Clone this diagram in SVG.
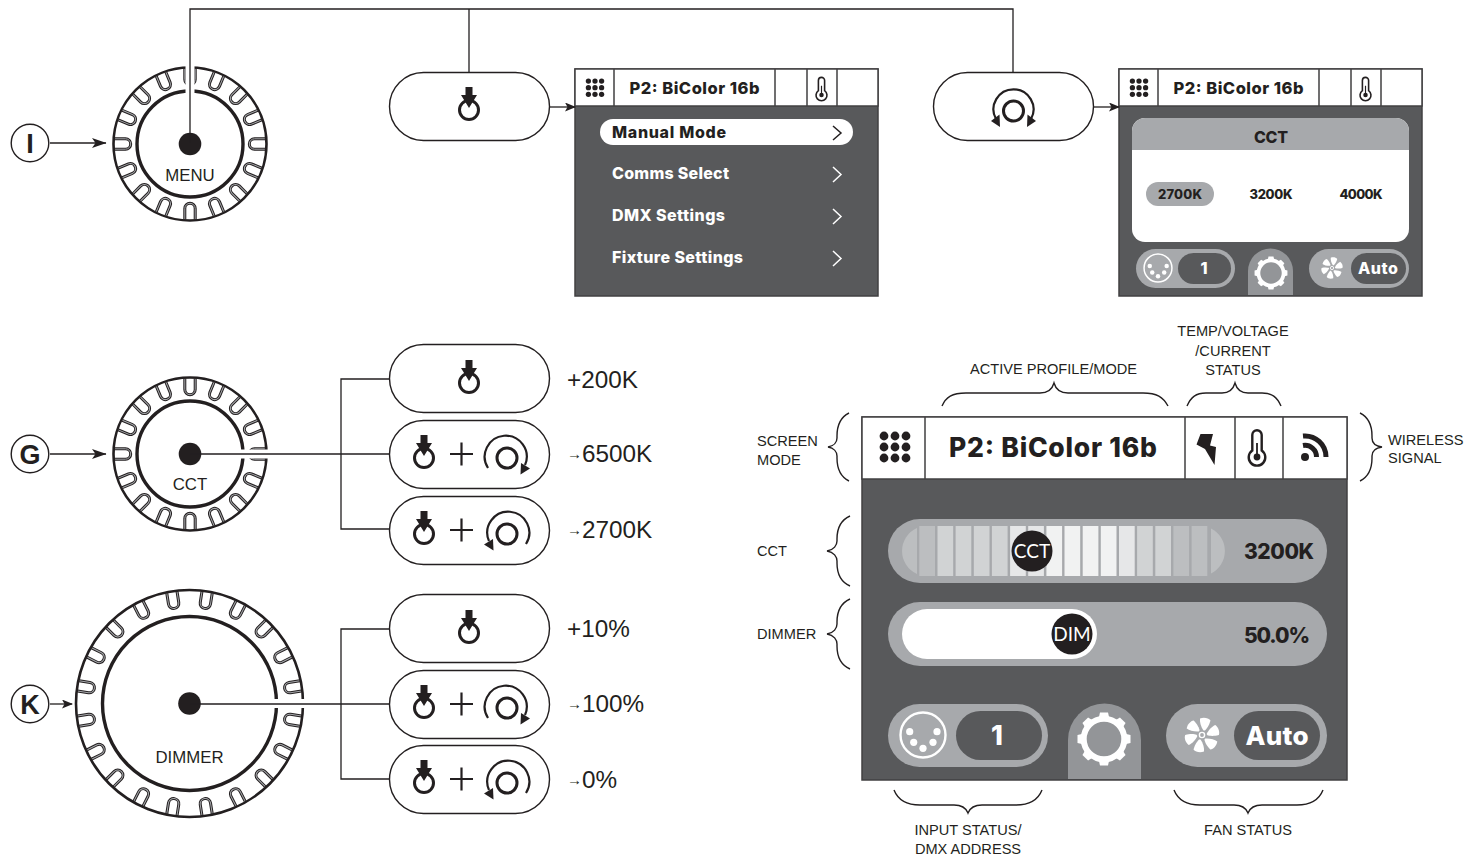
<svg xmlns="http://www.w3.org/2000/svg" width="1480" height="856" viewBox="0 0 1480 856">
<style>
.ln{fill:none;stroke:#231f20;stroke-width:1.3}
.pill{fill:#fff;stroke:#231f20;stroke-width:1.4}
.lab{font-family:"Liberation Sans",Arial,sans-serif;fill:#231f20;font-size:14.6px}
.knob{font-family:"Liberation Sans",Arial,sans-serif;fill:#231f20;font-size:16.8px;text-anchor:middle}
.val{font-family:"Liberation Sans",Arial,sans-serif;fill:#231f20;font-size:24.3px}
.badge{font-family:"Liberation Sans",Arial,sans-serif;fill:#231f20;font-size:27px;font-weight:700;text-anchor:middle}
.ui{font-family:Inter,"Open Sans",sans-serif;font-weight:800;fill:#231f20}
.w{fill:#fff}
.m{text-anchor:middle}
.br{fill:none;stroke:#231f20;stroke-width:1.4}
.hd{fill:#fff;stroke:#414042;stroke-width:1.5}
.dv{stroke:#414042;stroke-width:1.5}
.chev{fill:none;stroke:#fff;stroke-width:1.5}
.thin{font-family:Lato,sans-serif;font-size:19px;fill:#fff;text-anchor:middle}
</style>
<defs>
<marker id="ah" markerUnits="userSpaceOnUse" markerWidth="15" markerHeight="10" refX="14" refY="5" orient="auto"><path d="M0 0L14.500 5L0 10L3.500 5Z" fill="#231f20"/></marker>
<marker id="as" markerUnits="userSpaceOnUse" markerWidth="11" markerHeight="9" refX="10" refY="4.500" orient="auto"><path d="M0 0L11 4.500L0 9L2.500 4.500Z" fill="#231f20"/></marker>
<g id="bump"><path d="M75.500 -5.200H64.500A5.200 5.200 0 0 0 64.500 5.200H75.500" fill="none" stroke="#231f20" stroke-width="3"/><path d="M75.500 -5.200H64.500A5.200 5.200 0 0 0 64.500 5.200H75.500" fill="none" stroke="#a7a9ac" stroke-width="1"/></g>
<g id="bumpL"><path d="M112.500 -5.200H101.500A5.200 5.200 0 0 0 101.500 5.200H112.500" fill="none" stroke="#231f20" stroke-width="3"/><path d="M112.500 -5.200H101.500A5.200 5.200 0 0 0 101.500 5.200H112.500" fill="none" stroke="#a7a9ac" stroke-width="1"/></g>
<g id="knob16">
<use href="#bump"/><use href="#bump" transform="rotate(22.500)"/><use href="#bump" transform="rotate(45)"/><use href="#bump" transform="rotate(67.500)"/><use href="#bump" transform="rotate(90)"/><use href="#bump" transform="rotate(112.500)"/><use href="#bump" transform="rotate(135)"/><use href="#bump" transform="rotate(157.500)"/><use href="#bump" transform="rotate(180)"/><use href="#bump" transform="rotate(202.500)"/><use href="#bump" transform="rotate(225)"/><use href="#bump" transform="rotate(247.500)"/><use href="#bump" transform="rotate(270)"/><use href="#bump" transform="rotate(292.500)"/><use href="#bump" transform="rotate(315)"/><use href="#bump" transform="rotate(337.500)"/>
<circle r="76.500" fill="none" stroke="#231f20" stroke-width="2.600"/>
<circle r="53" fill="none" stroke="#231f20" stroke-width="3.400"/>
</g>
<g id="press"><circle r="9.500" fill="none" stroke="#231f20" stroke-width="3"/><path d="M-3.500 -23H3.500V-15H8L0 -2L-8 -15H-3.500Z" fill="#231f20"/></g>
<g id="cw"><circle r="10" fill="none" stroke="#231f20" stroke-width="3"/><path d="M-19 10A21 21 0 1 1 18 7" fill="none" stroke="#231f20" stroke-width="2.200"/><path d="M13.500 16.500L23 10.500L14 5Z" fill="#231f20"/></g>
<g id="both"><circle r="10" fill="none" stroke="#231f20" stroke-width="3"/><path d="M-17.500 8A20 20 0 1 1 17.500 8" fill="none" stroke="#231f20" stroke-width="2.200"/><path d="M13.500 16L22.500 10L14 3.500Z" fill="#231f20"/><path d="M-13.500 16L-22.500 10L-14 3.500Z" fill="#231f20"/></g>
<g id="plus"><path d="M-11.500 0H11.500M0 -11.500V11.500" stroke="#231f20" stroke-width="2.200" fill="none"/></g>
<g id="dots" fill="#231f20"><circle cx="-11" cy="-11" r="4.400"/><circle cy="-11" r="4.400"/><circle cx="11" cy="-11" r="4.400"/><circle cx="-11" r="4.400"/><circle r="4.400"/><circle cx="11" r="4.400"/><circle cx="-11" cy="11" r="4.400"/><circle cy="11" r="4.400"/><circle cx="11" cy="11" r="4.400"/></g>
<g id="therm"><path d="M-4.700 -6.500V-22A4.700 4.700 0 0 1 4.700 -22V-6.500A8.300 8.300 0 1 1 -4.700 -6.500Z" fill="#fff" stroke="#231f20" stroke-width="2.400"/><circle r="3.400" fill="#231f20"/><path d="M0 0V-14" stroke="#231f20" stroke-width="1.800"/></g>
<path id="tooth" d="M-5.500 -20L-4 -26.500H4L5.500 -20Z" fill="#fff"/>
<g id="gear"><circle r="20.300" fill="none" stroke="#fff" stroke-width="6"/><use href="#tooth"/><use href="#tooth" transform="rotate(45)"/><use href="#tooth" transform="rotate(90)"/><use href="#tooth" transform="rotate(135)"/><use href="#tooth" transform="rotate(180)"/><use href="#tooth" transform="rotate(225)"/><use href="#tooth" transform="rotate(270)"/><use href="#tooth" transform="rotate(315)"/></g>
<g id="xlr"><circle r="22.500" fill="none" stroke="#fff" stroke-width="2.400"/><g fill="#fff"><circle cx="-13.300" cy="-3.300" r="3.600"/><circle cx="14" cy="-3.300" r="3.600"/><circle cx="-9.300" cy="7.300" r="3.600"/><circle cx="10" cy="7.300" r="3.600"/><circle cy="13.300" r="3.600"/></g></g>
<path id="blade" d="M1.500 -4.500C-1 -8 -2.500 -13 -2 -16.500C2 -18 6.500 -17 8.500 -14.500C7 -9 4.500 -6 3 -4.500Z" fill="#fff"/>
<g id="fan"><circle r="2.600" fill="none" stroke="#fff" stroke-width="1.400"/><use href="#blade"/><use href="#blade" transform="rotate(60)"/><use href="#blade" transform="rotate(120)"/><use href="#blade" transform="rotate(180)"/><use href="#blade" transform="rotate(240)"/><use href="#blade" transform="rotate(300)"/></g>
<g id="hdr">
<rect x="0" y="0" width="303" height="227" fill="#58595b" stroke="#414042" stroke-width="1.500"/>
<rect x="0" y="0" width="303" height="37" class="hd"/>
<path class="dv" d="M39 0V37M200 0V37M232 0V37M262 0V37"/>
<use href="#dots" transform="translate(20 18.700) scale(.6)"/>
<use href="#therm" transform="translate(246.500 26) scale(.66)"/>
<text class="ui m" x="119.500" y="25" font-size="16.500" textLength="130">P2: BiColor 16b</text>
</g>
</defs>

<g id="knob-menu" transform="translate(190 144)">
<use href="#knob16"/>
<path d="M0 -50V-80" stroke="#fff" stroke-width="9"/>
<circle r="11.300" fill="#231f20"/>
<text class="knob" y="37">MENU</text>
</g>
<g id="knob-cct" transform="translate(190 454)">
<use href="#knob16"/>
<path d="M50 0H80" stroke="#fff" stroke-width="9"/>
<circle r="11.300" fill="#231f20"/>
<text class="knob" y="36">CCT</text>
</g>
<g id="knob-dimmer" transform="translate(189.500 703.500)">
<use href="#bumpL" transform="rotate(9)"/><use href="#bumpL" transform="rotate(27)"/><use href="#bumpL" transform="rotate(45)"/><use href="#bumpL" transform="rotate(63)"/><use href="#bumpL" transform="rotate(81)"/><use href="#bumpL" transform="rotate(99)"/><use href="#bumpL" transform="rotate(117)"/><use href="#bumpL" transform="rotate(135)"/><use href="#bumpL" transform="rotate(153)"/><use href="#bumpL" transform="rotate(171)"/><use href="#bumpL" transform="rotate(189)"/><use href="#bumpL" transform="rotate(207)"/><use href="#bumpL" transform="rotate(225)"/><use href="#bumpL" transform="rotate(243)"/><use href="#bumpL" transform="rotate(261)"/><use href="#bumpL" transform="rotate(279)"/><use href="#bumpL" transform="rotate(297)"/><use href="#bumpL" transform="rotate(315)"/><use href="#bumpL" transform="rotate(333)"/><use href="#bumpL" transform="rotate(351)"/>
<circle r="113.500" fill="none" stroke="#231f20" stroke-width="2.600"/>
<circle r="87" fill="none" stroke="#231f20" stroke-width="3.400"/>
<path d="M84 0H118" stroke="#fff" stroke-width="9"/>
<circle r="11.300" fill="#231f20"/>
<text class="knob" y="59.500">DIMMER</text>
</g>

<g id="badge-i"><circle cx="30" cy="143" r="18.800" fill="#fff" stroke="#231f20" stroke-width="1.400"/><text class="badge" x="30" y="152.500">I</text></g>
<g id="badge-g"><circle cx="30" cy="454" r="18.800" fill="#fff" stroke="#231f20" stroke-width="1.400"/><text class="badge" x="30" y="463.500">G</text></g>
<g id="badge-k"><circle cx="30" cy="704" r="18.800" fill="#fff" stroke="#231f20" stroke-width="1.400"/><text class="badge" x="30" y="713.500">K</text></g>

<g id="btn-press-menu"><rect class="pill" x="389.500" y="72.500" width="160" height="68" rx="34"/><use href="#press" transform="translate(469 110)"/></g>
<g id="btn-turn-menu"><rect class="pill" x="933.500" y="72.500" width="160" height="68" rx="34"/><use href="#both" transform="translate(1013.500 111)"/></g>

<g id="btn-cct-1"><rect class="pill" x="389.500" y="344.500" width="160" height="68" rx="34"/><use href="#press" transform="translate(469 383)"/></g>
<g id="btn-cct-2"><rect class="pill" x="389.500" y="420.500" width="160" height="68" rx="34"/><use href="#press" transform="translate(424 458)"/><use href="#plus" transform="translate(461.500 454)"/><use href="#cw" transform="translate(507 458)"/></g>
<g id="btn-cct-3"><rect class="pill" x="389.500" y="496.500" width="160" height="68" rx="34"/><use href="#press" transform="translate(424 534)"/><use href="#plus" transform="translate(461.500 530)"/><use href="#cw" transform="translate(507 534) scale(-1 1)"/></g>
<g id="btn-dim-1"><rect class="pill" x="389.500" y="594.500" width="160" height="68" rx="34"/><use href="#press" transform="translate(469 633)"/></g>
<g id="btn-dim-2"><rect class="pill" x="389.500" y="670.500" width="160" height="68" rx="34"/><use href="#press" transform="translate(424 708)"/><use href="#plus" transform="translate(461.500 704)"/><use href="#cw" transform="translate(507 708)"/></g>
<g id="btn-dim-3"><rect class="pill" x="389.500" y="745.500" width="160" height="68" rx="34"/><use href="#press" transform="translate(424 783)"/><use href="#plus" transform="translate(461.500 779)"/><use href="#cw" transform="translate(507 783) scale(-1 1)"/></g>

<g id="values">
<text class="val" x="567" y="388">+200K</text>
<text class="val" x="567" y="462"><tspan font-size="15" dy="-3.500">→</tspan><tspan dy="3.500">6500K</tspan></text>
<text class="val" x="567" y="538"><tspan font-size="15" dy="-3.500">→</tspan><tspan dy="3.500">2700K</tspan></text>
<text class="val" x="567" y="637">+10%</text>
<text class="val" x="567" y="712"><tspan font-size="15" dy="-3.500">→</tspan><tspan dy="3.500">100%</tspan></text>
<text class="val" x="567" y="788"><tspan font-size="15" dy="-3.500">→</tspan><tspan dy="3.500">0%</tspan></text>
</g>

<g id="screen-menu" transform="translate(575 69)">
<use href="#hdr"/>
<rect x="25" y="50" width="253" height="26" rx="13" fill="#fff"/>
<text class="ui" x="37" y="69" font-size="16" textLength="114">Manual Mode</text>
<text class="ui w" x="37" y="110" font-size="16" textLength="117">Comms Select</text>
<text class="ui w" x="37" y="152" font-size="16" textLength="113">DMX Settings</text>
<text class="ui w" x="37" y="194" font-size="16" textLength="131">Fixture Settings</text>
<path d="M258 57L266 64L258 71" fill="none" stroke="#231f20" stroke-width="1.500"/>
<path class="chev" d="M258 98L266 105.500L258 113"/>
<path class="chev" d="M258 140L266 147.500L258 155"/>
<path class="chev" d="M258 182L266 189.500L258 197"/>
</g>

<g id="screen-cct" transform="translate(1119 69)">
<use href="#hdr"/>
<rect x="13" y="49" width="277" height="124" rx="13" fill="#fff"/>
<path d="M13 81V62A13 13 0 0 1 26 49H277A13 13 0 0 1 290 62V81Z" fill="#a7a9ac"/>
<text class="ui m" x="152" y="74" font-size="16" textLength="34">CCT</text>
<rect x="27" y="113" width="68" height="24" rx="12" fill="#a7a9ac"/>
<text class="ui m" x="61" y="130" font-size="13" textLength="44">2700K</text>
<text class="ui m" x="152" y="130" font-size="13" textLength="43">3200K</text>
<text class="ui m" x="242" y="130" font-size="13" textLength="43">4000K</text>
<rect x="17" y="180" width="99" height="39" rx="19.500" fill="#a7a9ac"/>
<rect x="59" y="184" width="53" height="31" rx="15.500" fill="#58595b"/>
<use href="#xlr" transform="translate(39 199) scale(.62)"/>
<text class="ui w m" x="85" y="205" font-size="16">1</text>
<path d="M129 226V202A22.500 22.500 0 0 1 174 202V226Z" fill="#939598"/>
<use href="#gear" transform="translate(152 204) scale(.62)"/>
<rect x="190" y="180" width="100" height="39" rx="19.500" fill="#a7a9ac"/>
<rect x="232" y="184" width="55" height="31" rx="15.500" fill="#58595b"/>
<use href="#fan" transform="translate(213 199) scale(.62)"/>
<text class="ui w m" x="259" y="205" font-size="16" textLength="40">Auto</text>
</g>

<g id="screen-main" transform="translate(862 417)">
<rect width="485" height="363" fill="#58595b" stroke="#414042" stroke-width="1.500"/>
<rect width="485" height="62" class="hd"/>
<path class="dv" d="M63 0V62M323 0V62M373 0V62M421 0V62"/>
<use href="#dots" transform="translate(33 30)"/>
<text class="ui m" x="191" y="40" font-size="26.500" textLength="208">P2: BiColor 16b</text>
<path d="M338.500 17H351L348 28.500L354 30L352.500 48L343 32L334.500 27.500Z" fill="#231f20"/>
<use href="#therm" transform="translate(395 40)"/>
<circle cx="443" cy="40" r="4" fill="#231f20"/>
<path d="M441 28.500A11.500 11.500 0 0 1 454.500 40" fill="none" stroke="#231f20" stroke-width="5"/>
<path d="M441 19A21 21 0 0 1 464 40" fill="none" stroke="#231f20" stroke-width="5"/>
<rect x="26" y="102" width="439" height="64" rx="32" fill="#a7a9ac"/>
<path d="M55 111.100A25 25 0 0 0 55 156.900Z" fill="#bcbec0"/>
<path d="M349 111.600A25 25 0 0 1 349 156.400Z" fill="#bcbec0"/>
<g>
<rect x="57.300" y="109" width="15.700" height="50" fill="#bcbec0"/>
<rect x="75.500" y="109" width="15.700" height="50" fill="#d1d3d4"/>
<rect x="93.600" y="109" width="15.700" height="50" fill="#d1d3d4"/>
<rect x="111.800" y="109" width="15.700" height="50" fill="#d1d3d4"/>
<rect x="129.900" y="109" width="15.700" height="50" fill="#d1d3d4"/>
<rect x="148.100" y="109" width="15.700" height="50" fill="#e6e7e8"/>
<rect x="166.200" y="109" width="15.700" height="50" fill="#e6e7e8"/>
<rect x="184.400" y="109" width="15.700" height="50" fill="#f1f2f2"/>
<rect x="202.500" y="109" width="15.700" height="50" fill="#f1f2f2"/>
<rect x="220.700" y="109" width="15.700" height="50" fill="#f1f2f2"/>
<rect x="238.800" y="109" width="15.700" height="50" fill="#f1f2f2"/>
<rect x="257" y="109" width="15.700" height="50" fill="#e6e7e8"/>
<rect x="275.100" y="109" width="15.700" height="50" fill="#d1d3d4"/>
<rect x="293.300" y="109" width="15.700" height="50" fill="#d1d3d4"/>
<rect x="311.400" y="109" width="15.700" height="50" fill="#bcbec0"/>
<rect x="329.600" y="109" width="15.700" height="50" fill="#bcbec0"/>
</g>
<circle cx="170" cy="134" r="20.500" fill="#231f20"/>
<text class="thin" x="170" y="141">CCT</text>
<text class="ui" x="382" y="142" font-size="21" textLength="70">3200K</text>
<rect x="26" y="185" width="439" height="64" rx="32" fill="#a7a9ac"/>
<rect x="40" y="192" width="195" height="50" rx="25" fill="#fff"/>
<circle cx="210" cy="217" r="20.500" fill="#231f20"/>
<text class="thin" x="210" y="224">DIM</text>
<text class="ui" x="382" y="226" font-size="21" textLength="66">50.0%</text>
<rect x="26" y="287" width="160" height="63" rx="31.500" fill="#a7a9ac"/>
<rect x="94" y="294" width="86" height="49" rx="24.500" fill="#58595b"/>
<use href="#xlr" transform="translate(61 318)"/>
<text class="ui w m" x="135" y="328" font-size="27">1</text>
<path d="M206 362V323A36.500 36.500 0 0 1 279 323V362Z" fill="#939598"/>
<use href="#gear" transform="translate(242 322)"/>
<rect x="304" y="287" width="161" height="63" rx="31.500" fill="#a7a9ac"/>
<rect x="372" y="294" width="86" height="49" rx="24.500" fill="#58595b"/>
<use href="#fan" transform="translate(340 318)"/>
<text class="ui w m" x="415" y="328" font-size="26" textLength="63">Auto</text>
</g>

<g id="braces">
<path class="br" d="M942 406C946 397 952 393 966 393H1040C1047 393 1052 390 1054 383C1056 390 1061 393 1068 393H1143C1157 393 1163 397 1168 406"/>
<path class="br" d="M1187 406C1191 397 1196 393 1206 393H1222C1229 393 1233 390 1235 383C1237 390 1241 393 1248 393H1262C1272 393 1277 397 1281 406"/>
<path class="br" d="M849 413C841 417 837 424 837 436V438C837 442 834 446 828 447C834 448 837 452 837 456V458C837 470 841 477 849 481"/>
<path class="br" d="M1360 413C1368 417 1372 424 1372 436V438C1372 442 1375 446 1382 447C1375 448 1372 452 1372 456V458C1372 470 1368 477 1360 481"/>
<path class="br" d="M850 516C841 520 837 527 837 539V541C837 545 834 550 827 551C834 552 837 557 837 561V563C837 575 841 582 850 586"/>
<path class="br" d="M850 599C841 603 837 610 837 622V624C837 628 834 633 827 634C834 635 837 640 837 644V646C837 658 841 665 850 669"/>
<path class="br" d="M894 790C898 800 906 805 920 805H954C961 805 966 808 968 813C970 808 975 805 982 805H1016C1030 805 1038 800 1042 790"/>
<path class="br" d="M1174 790C1178 800 1186 805 1200 805H1234C1241 805 1246 808 1248 813C1250 808 1255 805 1262 805H1297C1311 805 1319 800 1323 790"/>
</g>

<g id="labels">
<text class="lab" x="757" y="446">SCREEN</text>
<text class="lab" x="757" y="465">MODE</text>
<text class="lab" x="1388" y="445">WIRELESS</text>
<text class="lab" x="1388" y="463">SIGNAL</text>
<text class="lab" x="757" y="556">CCT</text>
<text class="lab" x="757" y="639">DIMMER</text>
<text class="lab m" x="1053.500" y="374">ACTIVE PROFILE/MODE</text>
<text class="lab m" x="1233" y="336">TEMP/VOLTAGE</text>
<text class="lab m" x="1233" y="356">/CURRENT</text>
<text class="lab m" x="1233" y="375">STATUS</text>
<text class="lab m" x="968" y="835">INPUT STATUS/</text>
<text class="lab m" x="968" y="854">DMX ADDRESS</text>
<text class="lab m" x="1248" y="835">FAN STATUS</text>
</g>

<g id="connectors">
<path class="ln" d="M190 143V9H1013V72M469 9V72"/>
<path class="ln" d="M389 379H341V529H389M190 454H389"/>
<path class="ln" d="M389 629H341V779H389M190 704H389"/>
<path class="ln" marker-end="url(#ah)" d="M50 143H106"/>
<path class="ln" marker-end="url(#ah)" d="M50 454H106"/>
<path class="ln" marker-end="url(#as)" d="M50 704H72"/>
<path class="ln" marker-end="url(#as)" d="M550 107H575"/>
<path class="ln" marker-end="url(#as)" d="M1094 107H1119"/>
</g>
</svg>
